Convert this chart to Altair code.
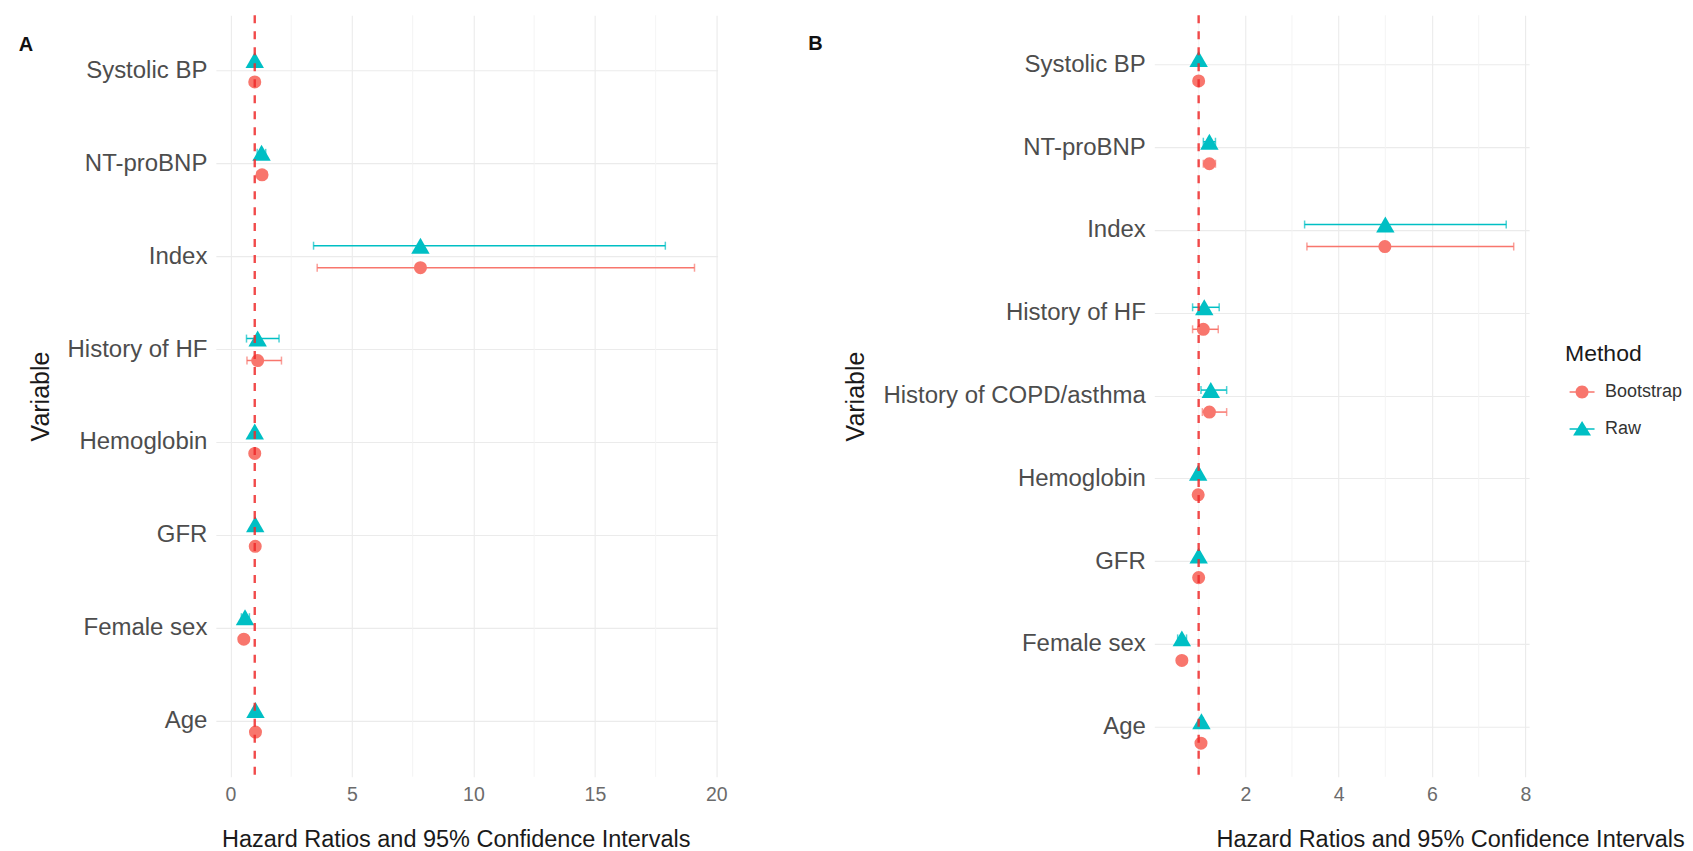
import altair as alt
import pandas as pd

# ---------------- data ----------------
methods = ["Bootstrap", "Raw"]
method_colors = ["#F8766D", "#00BFC4"]
method_shapes = ["circle", "triangle-up"]
# legend glyphs: symbol with a short horizontal error-bar line through it
legend_glyphs = [
    "M-0.96,-0.055H0.96V0.055H-0.96Z M0.5,0A0.5,0.5,0,1,1,-0.5,0A0.5,0.5,0,1,1,0.5,0Z",
    "M-0.96,-0.055H0.96V0.055H-0.96Z M0,-0.62L0.69,0.5L-0.69,0.5Z",
]

# Panel A
variables_a = ["Systolic BP", "NT-proBNP", "Index", "History of HF",
               "Hemoglobin", "GFR", "Female sex", "Age"]
raw_est_a = [1.00, 1.28, 7.82, 1.12, 1.00, 1.02, 0.60, 1.03]
raw_lo_a = [0.97, 1.10, 3.42, 0.66, 0.96, 0.98, 0.45, 1.00]
raw_hi_a = [1.03, 1.45, 17.90, 2.00, 1.04, 1.06, 0.78, 1.06]
boot_est_a = [1.00, 1.30, 7.82, 1.12, 1.00, 1.02, 0.55, 1.03]
boot_lo_a = [0.97, 1.10, 3.57, 0.68, 0.96, 0.98, 0.42, 1.00]
boot_hi_a = [1.03, 1.50, 19.10, 2.10, 1.04, 1.06, 0.72, 1.06]
major_ticks_a = [0, 5, 10, 15, 20]
minor_ticks_a = [2.5, 7.5, 12.5, 17.5]

# Panel B
variables_b = ["Systolic BP", "NT-proBNP", "Index", "History of HF",
               "History of COPD/asthma", "Hemoglobin", "GFR", "Female sex", "Age"]
raw_est_b = [1.00, 1.23, 5.00, 1.12, 1.26, 0.99, 1.00, 0.64, 1.06]
raw_lo_b = [0.97, 1.10, 3.27, 0.87, 1.05, 0.95, 0.97, 0.55, 1.02]
raw_hi_b = [1.03, 1.36, 7.59, 1.44, 1.60, 1.03, 1.03, 0.74, 1.10]
boot_est_b = [1.00, 1.23, 4.99, 1.10, 1.23, 0.99, 1.00, 0.64, 1.05]
boot_lo_b = [0.97, 1.10, 3.32, 0.87, 1.08, 0.95, 0.97, 0.55, 1.01]
boot_hi_b = [1.03, 1.36, 7.75, 1.42, 1.60, 1.03, 1.03, 0.74, 1.09]
major_ticks_b = [2, 4, 6, 8]
minor_ticks_b = [1, 3, 5, 7]

reference_hr = [1]

# dodge slots: two empty slots around the two methods
offset_slots = ["_top", "Raw", "Bootstrap", "_bottom"]


def build_frame(variables, r_est, r_lo, r_hi, b_est, b_lo, b_hi):
    rows = []
    for i, v in enumerate(variables):
        rows.append({"Variable": v, "Method": "Raw", "HR": r_est[i], "lo": r_lo[i], "hi": r_hi[i]})
        rows.append({"Variable": v, "Method": "Bootstrap", "HR": b_est[i], "lo": b_lo[i], "hi": b_hi[i]})
    return pd.DataFrame(rows)


FONT = "Liberation Sans"


def panel(df, variables, domain, major, minor, width, height, off_inner, off_outer,
          tag, tag_x, tag_y, title_x, ytitle_x, legend):
    color_scale = alt.Scale(domain=methods, range=method_colors)
    shape_scale = alt.Scale(domain=methods, range=method_shapes)
    size_scale = alt.Scale(domain=methods, range=[170, 340])
    y_enc = alt.Y(
        "Variable:N", sort=variables,
        scale=alt.Scale(type="band", domain=variables, paddingInner=0, paddingOuter=0.1),
        axis=alt.Axis(title="Variable", domain=False, ticks=False, grid=True,
                      bandPosition=0.5, gridColor="#ebebeb", gridWidth=1.1,
                      labelFontSize=24, labelColor="#4d4d4d", labelPadding=9,
                      labelLimit=500,
                      titleFontSize=25, titleColor="#1a1a1a", titleFontWeight="normal",
                      titleX=ytitle_x, titleY=height / 2, titleAngle=270,
                      titleAlign="center", titleBaseline="middle"),
    )
    yoff = alt.YOffset("Method:N",
                       scale=alt.Scale(domain=offset_slots, paddingInner=off_inner,
                                       paddingOuter=off_outer))
    x_scale = alt.Scale(domain=domain, nice=False, zero=False)
    x_main = alt.X(
        "HR:Q", scale=x_scale,
        axis=alt.Axis(title="Hazard Ratios and 95% Confidence Intervals",
                      values=major, grid=True, gridColor="#ebebeb", gridWidth=1.1,
                      domain=False, ticks=False, labelFontSize=19.5, labelColor="#6b6b6b",
                      labelPadding=9, titleFontSize=23.5, titleColor="#1a1a1a",
                      titleFontWeight="normal", titleX=title_x, titleY=63,
                      titleAlign="center", titleBaseline="middle"),
    )

    minor_layer = alt.Chart(pd.DataFrame({"HR": minor})).mark_rule(
        color="#f3f3f3", strokeWidth=0.9
    ).encode(x=alt.X("HR:Q", scale=x_scale))

    base = alt.Chart(df)
    bars = base.mark_rule(strokeWidth=1.5).encode(
        x=alt.X("lo:Q", scale=x_scale), x2="hi:Q",
        y=y_enc, yOffset=yoff,
        color=alt.Color("Method:N", scale=color_scale, legend=None),
    )
    caps = alt.layer(
        base.mark_tick(orient="vertical", size=8, thickness=1.5).encode(
            x=alt.X("lo:Q", scale=x_scale), y=y_enc, yOffset=yoff,
            color=alt.Color("Method:N", scale=color_scale, legend=None),
        ),
        base.mark_tick(orient="vertical", size=8, thickness=1.5).encode(
            x=alt.X("hi:Q", scale=x_scale), y=y_enc, yOffset=yoff,
            color=alt.Color("Method:N", scale=color_scale, legend=None),
        ),
    )
    points = base.mark_point(filled=True, opacity=1).encode(
        x=x_main, y=y_enc, yOffset=yoff,
        color=alt.Color("Method:N", scale=color_scale, legend=None),
        shape=alt.Shape("Method:N", scale=shape_scale, legend=None),
        size=alt.Size("Method:N", scale=size_scale, legend=None),
    )
    ref = alt.Chart(pd.DataFrame({"HR": reference_hr})).mark_rule(
        color="#ee2a2a", strokeWidth=2.4, strokeDash=[8, 8], opacity=0.85
    ).encode(x=alt.X("HR:Q", scale=x_scale))
    tag_layer = alt.Chart(pd.DataFrame({"tag": [tag]})).mark_text(
        font=FONT, fontSize=20, fontWeight="bold", color="#111111",
        align="center", baseline="middle"
    ).encode(text="tag:N", x=alt.value(tag_x), y=alt.value(tag_y))

    layers = [minor_layer, bars, caps, points, ref, tag_layer]
    if legend is not None:
        # legend-only layer: no rows drawn, scale domains fixed so the legend lists both methods
        legend_layer = base.transform_filter("false").mark_point(filled=True, opacity=1).encode(
            color=alt.Color("Method:N", scale=alt.Scale(domain=methods, range=method_colors),
                            legend=legend, title="Method"),
            shape=alt.Shape("Method:N", scale=alt.Scale(domain=methods, range=legend_glyphs),
                            legend=legend, title="Method"),
        )
        layers.append(legend_layer)

    return alt.layer(*layers).resolve_scale(
        color="independent", shape="independent", size="independent"
    ).properties(width=width, height=height)


df_a = build_frame(variables_a, raw_est_a, raw_lo_a, raw_hi_a, boot_est_a, boot_lo_a, boot_hi_a)
df_b = build_frame(variables_b, raw_est_b, raw_lo_b, raw_hi_b, boot_est_b, boot_lo_b, boot_hi_b)

legend_b = alt.Legend(
    orient="none", legendX=411, legendY=328, title="Method",
    titleFontSize=23, titleFontWeight="normal", titleColor="#1a1a1a", titlePadding=13,
    labelFontSize=18, labelColor="#333333", labelOffset=10, symbolOffset=4,
    symbolSize=676, rowPadding=15, symbolStrokeWidth=0, symbolOpacity=1,
)

panel_a = panel(df_a, variables_a, [-0.6, 20.05], major_ticks_a, minor_ticks_a,
                502, 762, 0.0, 0.11, "A", -190, 30, 240, -175, None)
panel_b = panel(df_b, variables_b, [0.05, 8.08], major_ticks_b, minor_ticks_b,
                375, 762, 0.15, 0.0, "B", -339, 29, 296, -299, legend_b)

chart = alt.hconcat(panel_a, panel_b, spacing=80).resolve_scale(
    color="independent", shape="independent", size="independent"
).resolve_legend(
    color="independent", shape="independent", size="independent"
).properties(
    padding={"left": 10, "top": 5, "right": 0, "bottom": 0}
).configure(
    font=FONT
).configure_view(
    stroke=None
)

chart.save("out.html", embed_options={"renderer": "svg", "actions": False})
